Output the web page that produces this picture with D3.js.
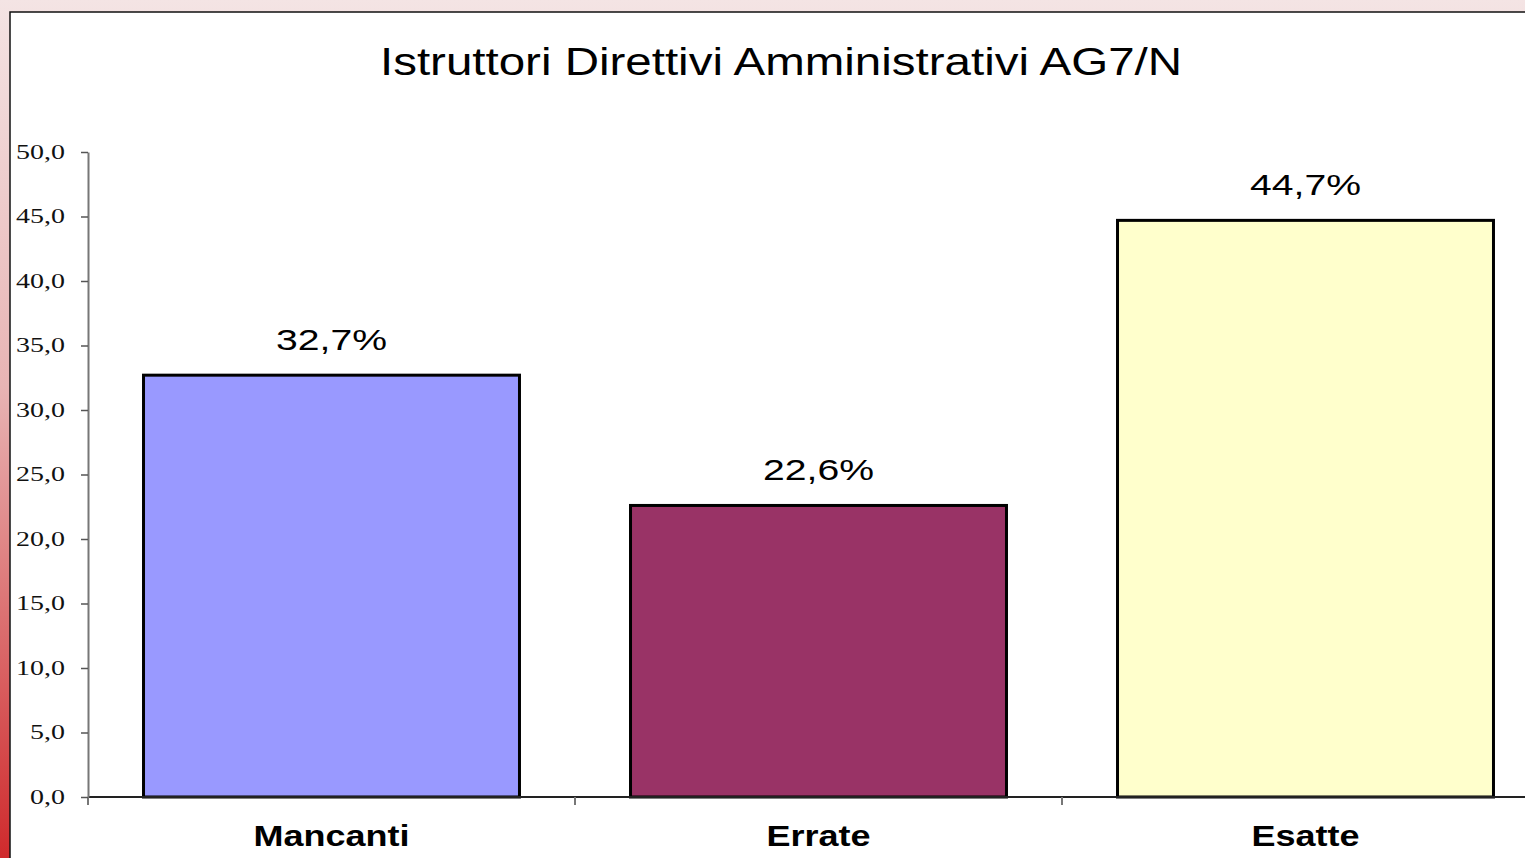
<!DOCTYPE html>
<html>
<head>
<meta charset="utf-8">
<script src="https://cdn.jsdelivr.net/npm/d3@7"></script>
<style>
  body { margin: 0; background: #fff; }
  svg { display: block; }
</style>
</head>
<body>
<div id="chart"></div>
<script>
// chart data
const title = "Istruttori Direttivi Amministrativi AG7/N";
const categories = ["Mancanti", "Errate", "Esatte"];
const values = [32.7, 22.6, 44.7];
const barColors = ["#9999FF", "#993366", "#FFFFCC"];
const yTicks = [0, 5, 10, 15, 20, 25, 30, 35, 40, 45, 50];

const width = 1525;
const height = 858;

// italian style numbers: comma as decimal mark
const it = d3.formatLocale({ decimal: ",", thousands: ".", grouping: [3], currency: ["€", ""] });
const fmtTick = it.format(".1f");

const svg = d3.select("#chart")
    .append("svg")
    .attr("width", width)
    .attr("height", height);

// background gradient (pink to red, top to bottom)
const defs = svg.append("defs");
const grad = defs.append("linearGradient")
    .attr("id", "bg")
    .attr("x1", 0).attr("y1", 0).attr("x2", 0).attr("y2", 1);
grad.append("stop").attr("offset", "0%").attr("stop-color", "#f4e4e4");
grad.append("stop").attr("offset", "45%").attr("stop-color", "#e8b4b4");
grad.append("stop").attr("offset", "100%").attr("stop-color", "#cf2a2c");

svg.append("rect")
    .attr("width", width).attr("height", height)
    .attr("fill", "url(#bg)");

// chart frame
svg.append("rect")
    .attr("x", 10).attr("y", 12)
    .attr("width", width + 20).attr("height", height + 20)
    .attr("fill", "#fff")
    .attr("stroke", "#111")
    .attr("stroke-width", 1.5);

// scales
const x = d3.scaleBand()
    .domain(categories)
    .range([88, 1549])
    .paddingInner(0.228)
    .paddingOuter(0.114);

const y = d3.scaleLinear()
    .domain([0, 50])
    .range([797, 152]);

// title
svg.append("text")
    .attr("transform", `translate(781,75) scale(1.25,1)`)
    .attr("text-anchor", "middle")
    .style("font-family", "Arial, 'Liberation Sans', sans-serif")
    .style("font-size", "38px")
    .style("fill", "#000")
    .text(title);

// bars
svg.append("g")
    .selectAll("rect")
    .data(categories)
    .join("rect")
    .attr("x", d => x(d))
    .attr("y", (d, i) => y(values[i]))
    .attr("width", x.bandwidth())
    .attr("height", (d, i) => y(0) - y(values[i]))
    .attr("fill", (d, i) => barColors[i])
    .attr("stroke", "#000")
    .attr("stroke-width", 3);

// x axis line
const xAxis = svg.append("g")
    .attr("transform", `translate(0,${y(0)})`)
    .call(d3.axisBottom(x).tickSize(0).tickSizeOuter(0).tickFormat(""));
xAxis.select(".domain")
    .attr("d", `M88,0H${width}`)
    .attr("stroke", "#222")
    .attr("stroke-width", 2);

// category boundary ticks
const bounds = [x.range()[0]].concat(categories.map(c => x(c) + x.bandwidth() + x.step() * x.paddingInner() / 2));
svg.append("g")
    .selectAll("line")
    .data(bounds)
    .join("line")
    .attr("x1", d => d).attr("x2", d => d)
    .attr("y1", y(0)).attr("y2", y(0) + 8)
    .attr("stroke", "#777")
    .attr("stroke-width", 2);

// y axis
const yAxis = svg.append("g")
    .attr("transform", "translate(88,0)")
    .call(d3.axisLeft(y).tickValues(yTicks).tickSize(7).tickSizeOuter(0).tickFormat(fmtTick));
yAxis.select(".domain").attr("stroke", "#777").attr("stroke-width", 2);
yAxis.selectAll(".tick line").attr("stroke", "#555").attr("stroke-width", 1.5);
yAxis.selectAll(".tick text")
    .attr("x", 0)
    .attr("dy", "0.32em")
    .attr("transform", "translate(-23,0) scale(1.4,1)")
    .attr("text-anchor", "end")
    .style("font-family", "'Liberation Serif', 'Times New Roman', serif")
    .style("font-size", "20px")
    .style("fill", "#111");

// value labels
svg.append("g")
    .selectAll("text")
    .data(categories)
    .join("text")
    .attr("transform", (d, i) => `translate(${x(d) + x.bandwidth() / 2},${y(values[i]) - 25}) scale(1.35,1)`)
    .attr("text-anchor", "middle")
    .style("font-family", "Arial, 'Liberation Sans', sans-serif")
    .style("font-size", "29px")
    .style("fill", "#000")
    .text((d, i) => it.format(".1f")(values[i]) + "%");

// category labels
svg.append("g")
    .selectAll("text")
    .data(categories)
    .join("text")
    .attr("transform", d => `translate(${x(d) + x.bandwidth() / 2},846) scale(1.2,1)`)
    .attr("text-anchor", "middle")
    .style("font-family", "Arial, 'Liberation Sans', sans-serif")
    .style("font-size", "30px")
    .style("font-weight", "bold")
    .style("fill", "#000")
    .text(d => d);
</script>
</body>
</html>
